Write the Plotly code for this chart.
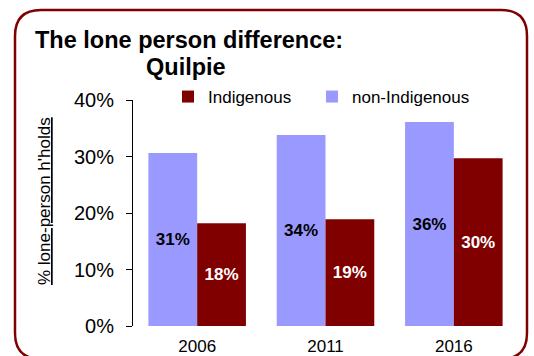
import plotly.graph_objects as go

# Census years and share of lone-person households
years = ["2006", "2011", "2016"]
non_indigenous = [0.306, 0.338, 0.361]
indigenous = [0.182, 0.189, 0.297]

LAVENDER = "#9999FF"
MAROON = "#800000"
FONT = "Liberation Sans, Arial, sans-serif"

# Figure geometry (pixels) used to place paper-referenced items
W, H = 534, 356
L, R, T, B = 133, 16, 100, 30
PW, PH = W - L - R, H - T - B


def px(x):
    return (x - L) / PW


def py(y):
    return (H - B - y) / PH


fig = go.Figure()
fig.add_bar(
    x=years, y=non_indigenous, name="non-Indigenous",
    marker=dict(color=LAVENDER, line=dict(width=0)),
    texttemplate="%{y:.0%}", textposition="inside", insidetextanchor="middle",
    textfont=dict(family=FONT, size=17, color="black", weight="bold"),
    legend="legend2",
)
fig.add_bar(
    x=years, y=indigenous, name="Indigenous",
    marker=dict(color=MAROON, line=dict(width=0)),
    texttemplate="%{y:.0%}", textposition="inside", insidetextanchor="middle",
    textfont=dict(family=FONT, size=17, color="white", weight="bold"),
    legend="legend",
)

# Rounded frame around the whole chart
x0, x1 = px(15), px(527)
y0, y1 = py(359), py(10)
rx, ry = 26 / PW, 26 / PH
frame = (
    f"M{x0 + rx},{y1} L{x1 - rx},{y1} Q{x1},{y1} {x1},{y1 - ry} "
    f"L{x1},{y0 + ry} Q{x1},{y0} {x1 - rx},{y0} "
    f"L{x0 + rx},{y0} Q{x0},{y0} {x0},{y0 + ry} "
    f"L{x0},{y1 - ry} Q{x0},{y1} {x0 + rx},{y1} Z"
)
fig.add_shape(type="path", path=frame, xref="paper", yref="paper",
              line=dict(color=MAROON, width=2.5), fillcolor="rgba(0,0,0,0)",
              layer="above")

fig.add_annotation(text="<b>The lone person difference:</b>", x=px(33), y=py(40),
                   xref="paper", yref="paper", xanchor="left", yanchor="middle",
                   showarrow=False, font=dict(family=FONT, size=23.5, color="black"))
fig.add_annotation(text="<b>Quilpie</b>", x=px(186), y=py(67),
                   xref="paper", yref="paper", xanchor="center", yanchor="middle",
                   showarrow=False, font=dict(family=FONT, size=23.5, color="black"))
fig.add_annotation(text="<u>% lone-person h'holds</u>", x=px(44), y=py(201),
                   xref="paper", yref="paper", xanchor="center", yanchor="middle",
                   textangle=-90, showarrow=False,
                   font=dict(family=FONT, size=17, color="black"))

legend_font = dict(family=FONT, size=17, color="black")
fig.update_layout(
    width=W, height=H,
    margin=dict(l=L, r=R, t=T, b=B),
    paper_bgcolor="white", plot_bgcolor="white",
    barmode="group", bargap=0.24, bargroupgap=0,
    showlegend=True,
    legend=dict(x=px(168), y=py(97), xanchor="left", yanchor="middle",
                orientation="h", font=legend_font, bgcolor="rgba(0,0,0,0)",
                traceorder="normal"),
    legend2=dict(x=px(312), y=py(97), xanchor="left", yanchor="middle",
                 orientation="h", font=legend_font, bgcolor="rgba(0,0,0,0)"),
    font=dict(family=FONT, color="black"),
    xaxis=dict(showline=False, ticks="", showgrid=False, automargin=False,
               ticklabelstandoff=8,
               tickfont=dict(family=FONT, size=17, color="black")),
    yaxis=dict(range=[0, 0.4], dtick=0.1, tickformat=".0%", showgrid=False,
               zeroline=False, showline=True, linecolor="black", linewidth=1,
               ticks="outside", ticklen=6, tickcolor="black", automargin=False,
               ticklabelstandoff=8,
               tickfont=dict(family=FONT, size=20, color="black")),
)

fig.write_html("out.html")
